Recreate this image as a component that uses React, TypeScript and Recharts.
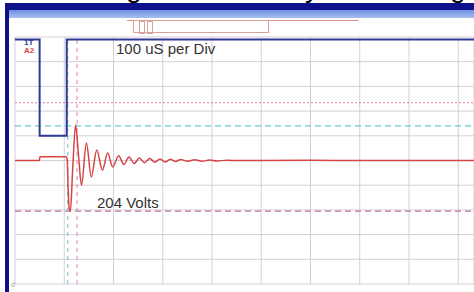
import { CartesianGrid, ComposedChart, Line, ReferenceLine, XAxis, YAxis } from 'recharts';

// scope capture: 100 uS per division, 100 V per division on the red channel
const TIME_TICKS = [0, 100, 200, 300, 400, 500, 600, 700, 800, 900, 1000, 1100, 1200, 1300, 1400, 1500, 1600, 1700, 1800];
const VOLT_TICKS = [-500, -400, -300, -200, -100, 0, 100, 200, 300, 400, 500];

// channel A2 (red) – ringing after the switch edge
const redTime = [
  0, 99, 101, 208, 212, 216, 220, 225, 234, 246, 258, 270, 290, 310, 332, 355, 376, 397, 421, 442, 463, 484, 505, 526,
  547, 568, 589, 610, 631, 652, 673, 700, 730, 760, 790, 820, 860, 900, 1000, 1200, 1400, 1600, 1870,
];
const redVolts = [
  0, 0, 15, 15, 5, -120, -195, -205, -40, 144, 20, -100, 71, -67, 43, -39, 30, -26, 19, -16, 14, -12, 10, -9, 8, -7, 6,
  -6, 5, -4, 4, -3, 3, -3, 2, -2, 1, 0, 0, 1, 0, 0, 0,
];

// channel 1T (blue) – gate pulse
const blueTime = [0, 100, 100, 210, 210, 1870];
const blueVolts = [490, 490, 100, 100, 490, 490];

// cursor levels
const CURSOR_HIGH = 234;
const CURSOR_PEAK = 140;
const CURSOR_LOW = -205;
const CURSOR_T1 = 214;
const CURSOR_T2 = 252;

const redData = redTime.map((t, i) => ({ t, v: redVolts[i] }));
const blueData = blueTime.map((t, i) => ({ t, v: blueVolts[i] }));

const W = 474;
const H = 292;

export default function App() {
  return (
    <div
      style={{
        position: 'fixed',
        left: 0,
        top: 0,
        width: W,
        height: H,
        overflow: 'hidden',
        background: '#fff',
        fontFamily: 'Arial, "Liberation Sans", sans-serif',
      }}
    >
      {/* window chrome */}
      <div style={{ position: 'absolute', left: 5, top: 3, width: W, height: 7, background: '#10108a' }} />
      <div style={{ position: 'absolute', left: 5, top: 3, width: 4, height: H, background: '#10108a' }} />
      <div
        style={{
          position: 'absolute',
          left: 9,
          top: 10,
          width: W,
          height: 8,
          background: 'linear-gradient(#6f90e0, #a9bff0)',
        }}
      />
      {/* toolbar widget */}
      <div style={{ position: 'absolute', left: 127, top: 20, width: 231, height: 1, background: '#e08a8a' }} />
      <div
        style={{
          position: 'absolute',
          left: 133,
          top: 20,
          width: 136,
          height: 13,
          border: '1px solid #d9a0a0',
          boxSizing: 'border-box',
        }}
      />
      <div style={{ position: 'absolute', left: 139, top: 21, width: 4, height: 11, border: '1px solid #d9a0a0' }} />
      <div style={{ position: 'absolute', left: 147, top: 21, width: 4, height: 11, border: '1px solid #d9a0a0' }} />

      <div style={{ position: 'absolute', left: 0, top: 0 }}>
        <ComposedChart width={W} height={H} margin={{ top: 37, right: 0, bottom: 8, left: 15 }}>
          <XAxis
            type="number"
            dataKey="t"
            domain={[0, 1864]}
            ticks={TIME_TICKS}
            allowDataOverflow
            hide
          />
          <YAxis type="number" dataKey="v" domain={[-500, 500]} ticks={VOLT_TICKS} allowDataOverflow hide />
          <CartesianGrid stroke="#d6cddb" strokeWidth={1} />
          <ReferenceLine y={CURSOR_HIGH} stroke="#e07f96" strokeDasharray="2 2" />
          <ReferenceLine y={CURSOR_PEAK} stroke="#66c9cc" strokeDasharray="6 4" strokeWidth={1.2} />
          <ReferenceLine y={CURSOR_LOW} stroke="#b8709c" strokeDasharray="6 4" strokeWidth={1.2} />
          <ReferenceLine x={CURSOR_T1} stroke="#7fc9d0" strokeDasharray="4 4" strokeWidth={1.2} />
          <ReferenceLine x={CURSOR_T2} stroke="#e39ab4" strokeDasharray="4 4" strokeWidth={1.2} />
          <Line
            data={blueData}
            dataKey="v"
            type="linear"
            stroke="#2d3b95"
            strokeWidth={2}
            dot={false}
            isAnimationActive={false}
          />
          <Line
            data={redData}
            dataKey="v"
            type="monotone"
            stroke="#d64545"
            strokeWidth={1.5}
            dot={false}
            isAnimationActive={false}
          />
        </ComposedChart>
      </div>

      <svg width={W} height={H} style={{ position: 'absolute', left: 0, top: 0 }}>
        {/* descenders of the page heading above the capture */}
        <g fontSize={28} fill="#000">
          <text x={126} y={-3}>g</text>
          <text x={305} y={-3}>y</text>
          <text x={450} y={-3}>g</text>
        </g>
        <text x={24} y={45} fontSize={8} fontWeight="bold" fill="#2d3b95">1T</text>
        <text x={24} y={53} fontSize={8} fontWeight="bold" fill="#d64545">A2</text>
        <text x={116} y={54} fontSize={15} fill="#333">100 uS per Div</text>
        <text x={97} y={208} fontSize={15} fill="#333">204 Volts</text>
        <text x={11} y={287} fontSize={7} fill="#999">d</text>
      </svg>
    </div>
  );
}
